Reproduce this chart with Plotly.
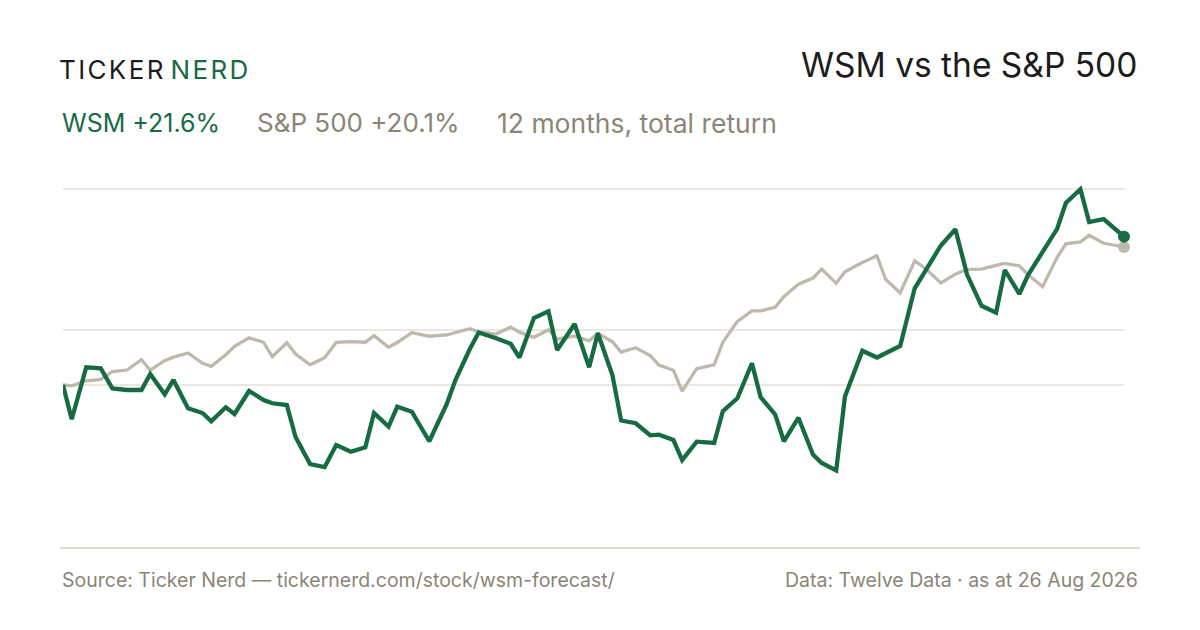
import plotly.graph_objects as go

# ---- data ----
dates = [
    "2025-08-26", "2025-08-29", "2025-09-03", "2025-09-08", "2025-09-12", "2025-09-17",
    "2025-09-22", "2025-09-25", "2025-09-30", "2025-10-03", "2025-10-08", "2025-10-13",
    "2025-10-16", "2025-10-21", "2025-10-24", "2025-10-29", "2025-11-03", "2025-11-06",
    "2025-11-11", "2025-11-14", "2025-11-19", "2025-11-24", "2025-11-28", "2025-12-03",
    "2025-12-08", "2025-12-11", "2025-12-16", "2025-12-19", "2025-12-24", "2025-12-30",
    "2026-01-05", "2026-01-08", "2026-01-13", "2026-01-16", "2026-01-22", "2026-01-27",
    "2026-01-30", "2026-02-04", "2026-02-09", "2026-02-12", "2026-02-18", "2026-02-23",
    "2026-02-26", "2026-03-03", "2026-03-06", "2026-03-11", "2026-03-16", "2026-03-19",
    "2026-03-24", "2026-03-27", "2026-04-01", "2026-04-07", "2026-04-10", "2026-04-15",
    "2026-04-20", "2026-04-23", "2026-04-28", "2026-05-01", "2026-05-06", "2026-05-11",
    "2026-05-14", "2026-05-19", "2026-05-22", "2026-05-28", "2026-06-02", "2026-06-05",
    "2026-06-10", "2026-06-15", "2026-06-19", "2026-06-24", "2026-06-29", "2026-07-03",
    "2026-07-08", "2026-07-13", "2026-07-16", "2026-07-21", "2026-07-24", "2026-07-29",
    "2026-08-03", "2026-08-06", "2026-08-11", "2026-08-14", "2026-08-19", "2026-08-26",
]

wsm_return = [
    0.00, -4.99, 2.58, 2.43, -0.51, -0.73, -0.73, 1.60, -1.35, 0.73,
    -3.39, -4.08, -5.28, -3.25, -4.22, -0.87, -2.18, -2.66, -2.91, -7.57,
    -11.50, -11.94, -8.73, -9.71, -9.07, -4.08, -6.07, -3.16, -3.89, -8.19,
    -2.79, 0.73, 5.27, 7.64, 6.80, 6.00, 4.00, 9.75, 10.73, 5.09,
    8.88, 2.59, 7.54, 1.46, -5.17, -5.57, -7.32, -7.23, -8.01, -10.92,
    -8.25, -8.44, -3.81, -1.94, 3.16, -1.78, -4.29, -8.19, -4.76, -10.12,
    -11.35, -12.45, -1.66, 4.99, 4.00, 4.63, 5.68, 14.08, 16.93, 20.31,
    22.68, 16.08, 11.53, 10.52, 16.74, 13.25, 16.01, 19.29, 22.74, 26.49,
    28.50, 23.73, 24.16, 21.60,
]

spx_return = [
    0.00, -0.12, 0.61, 0.83, 1.94, 2.18, 3.68, 2.18, 3.54, 4.05,
    4.66, 3.16, 2.72, 4.41, 5.63, 6.88, 6.22, 4.12, 6.16, 4.51,
    2.95, 3.97, 6.22, 6.30, 6.22, 7.18, 5.49, 6.19, 7.61, 7.10,
    7.28, 7.61, 8.20, 7.76, 7.42, 8.44, 7.69, 6.94, 8.05, 6.67,
    7.10, 6.43, 7.53, 6.30, 4.80, 5.43, 4.29, 2.91, 2.14, -0.90,
    2.37, 2.95, 6.23, 9.27, 10.80, 10.80, 11.31, 12.85, 14.67, 15.57,
    16.88, 14.80, 16.49, 17.83, 18.81, 15.39, 13.39, 18.08, 16.86, 14.85,
    16.13, 16.84, 16.86, 17.42, 17.71, 17.35, 16.06, 14.31, 18.59, 20.55,
    20.82, 21.79, 20.63, 20.10,
]

ticker = "WSM"
benchmark = "S&P 500"
title_text = "WSM vs the S&P 500"
period_text = "12 months, total return"
source_text = "Source: Ticker Nerd \u2014 tickernerd.com/stock/wsm-forecast/"
data_text = "Data: Twelve Data \u00b7 as at 26 Aug 2026"

# ---- styling ----
GREEN = "#176b43"
GREY_LINE = "#bfb8ad"
GREY_TEXT = "#8a8576"
INK = "#1c1c1c"
GRID = "#ebe8e2"
FONT = "Inter, Roboto, 'Open Sans', sans-serif"

W, H = 1200, 630
L, R, T, B = 63, 76, 170, 82
PW, PH = W - L - R, H - T - B


def px(x):
    return (x - L) / PW


def py(y):
    return (H - B - y) / PH


ymax = max(wsm_return + spx_return)
ymin = min(wsm_return + spx_return)
grid_vals = [0, (ymax + ymin) / 2, ymax]

fig = go.Figure()

fig.add_trace(go.Scatter(
    x=dates, y=spx_return, mode="lines",
    line=dict(color=GREY_LINE, width=3.3, shape="linear"),
    hoverinfo="skip", showlegend=False,
))
fig.add_trace(go.Scatter(
    x=dates, y=wsm_return, mode="lines",
    line=dict(color=GREEN, width=4.3, shape="linear"),
    hoverinfo="skip", showlegend=False,
))
fig.add_trace(go.Scatter(
    x=[dates[-1]], y=[spx_return[-1]], mode="markers",
    marker=dict(color=GREY_LINE, size=12), cliponaxis=False,
    hoverinfo="skip", showlegend=False,
))
fig.add_trace(go.Scatter(
    x=[dates[-1]], y=[wsm_return[-1]], mode="markers",
    marker=dict(color=GREEN, size=12), cliponaxis=False,
    hoverinfo="skip", showlegend=False,
))

hs = "\u200a"
logo = ("<span style='color:%s'>%s</span>%s<span style='color:%s'>%s</span>"
        % (INK, hs.join("TICKER"), hs * 3, GREEN, hs.join("NERD")))

annotations = [
    dict(text=logo, x=px(57), y=py(70), xanchor="left", yanchor="middle",
         font=dict(family=FONT, size=26, color=INK)),
    dict(text=title_text, x=px(1139), y=py(65), xanchor="right", yanchor="middle",
         font=dict(family=FONT, size=33.5, color=INK)),
    dict(text="%s %+.1f%%" % (ticker, wsm_return[-1]), x=px(60), y=py(123),
         xanchor="left", yanchor="middle", font=dict(family=FONT, size=25, color=GREEN)),
    dict(text="%s %+.1f%%" % (benchmark, spx_return[-1]), x=px(255), y=py(123),
         xanchor="left", yanchor="middle", font=dict(family=FONT, size=26, color=GREY_TEXT)),
    dict(text=period_text, x=px(495), y=py(123),
         xanchor="left", yanchor="middle", font=dict(family=FONT, size=26.5, color=GREY_TEXT)),
    dict(text=source_text, x=px(60), y=py(580), xanchor="left", yanchor="middle",
         font=dict(family=FONT, size=19.5, color=GREY_TEXT)),
    dict(text=data_text, x=px(1140), y=py(580), xanchor="right", yanchor="middle",
         font=dict(family=FONT, size=19.5, color=GREY_TEXT)),
]
for a in annotations:
    a.update(xref="paper", yref="paper", showarrow=False)

fig.update_layout(
    width=W, height=H,
    margin=dict(l=L, r=R, t=T, b=B),
    paper_bgcolor="white", plot_bgcolor="white",
    font=dict(family=FONT),
    xaxis=dict(range=[dates[0], dates[-1]], showgrid=False, zeroline=False,
               showticklabels=False, showline=False, ticks=""),
    yaxis=dict(range=[-23.73, 31.30], tickvals=grid_vals, showticklabels=False,
               showgrid=True, gridcolor=GRID, gridwidth=1.5, zeroline=False,
               showline=False, ticks=""),
    annotations=annotations,
    shapes=[dict(type="line", xref="paper", yref="paper",
                 x0=px(60), x1=px(1140), y0=0, y1=0,
                 line=dict(color="#dedad1", width=2))],
)

fig.write_html(
    "out.html",
    config={"displayModeBar": False},
    post_script="document.body.style.margin='0';document.body.style.padding='0';",
)
